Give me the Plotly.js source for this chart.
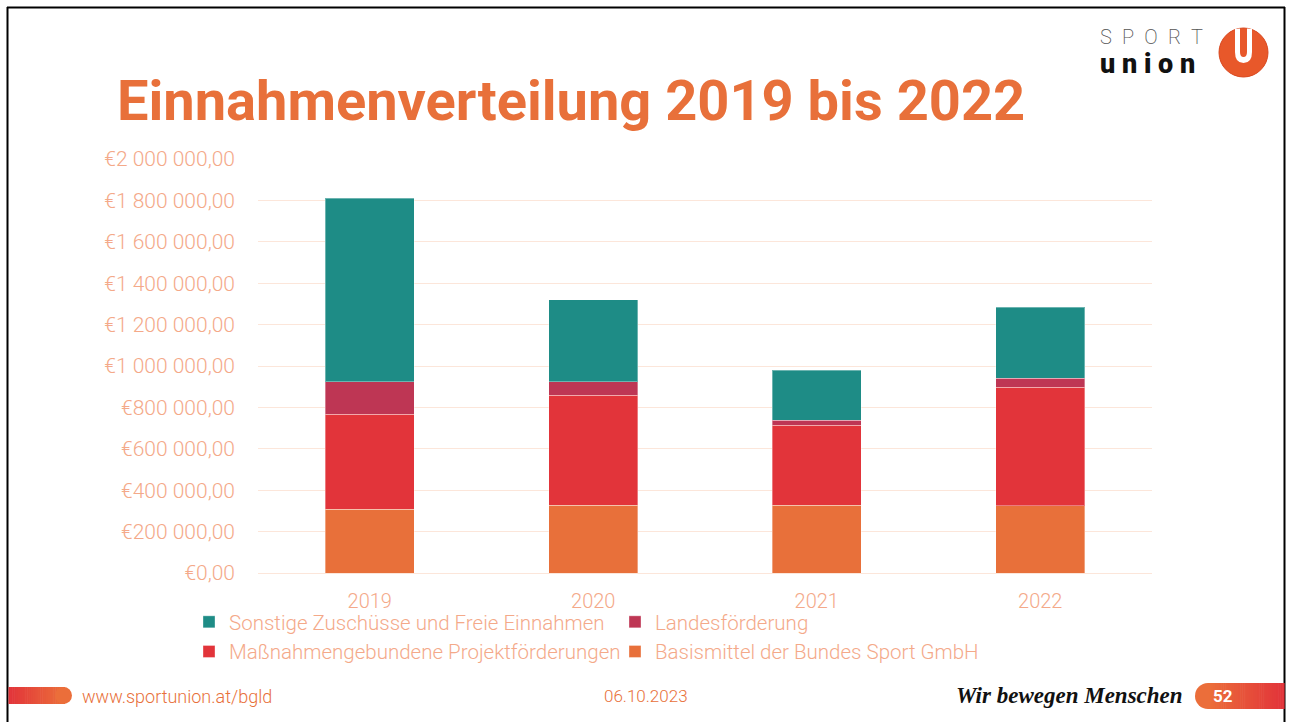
<!DOCTYPE html>
<html><head><meta charset="utf-8">
<script src="https://cdn.plot.ly/plotly-3.0.1.min.js"></script>
<style>html,body{margin:0;padding:0;background:#fff}#chart{width:1291px;height:722px}</style>
</head><body><div id="chart"></div>
<script>
const years = ['2019','2020','2021','2022'];
const basismittel = [309000, 328000, 327000, 325000];
const massnahmen = [457000, 530000, 386000, 572000];
const landes = [158000, 66000, 24000, 43000];
const sonstige = [887000, 395000, 243000, 343000];
const seriesNames = ['Basismittel der Bundes Sport GmbH','Maßnahmengebundene Projektförderungen','Landesförderung','Sonstige Zuschüsse und Freie Einnahmen'];
const seriesColors = ['#E8703A','#E2343A','#BE3654','#1E8C86'];
const tickVals = [0,200000,400000,600000,800000,1000000,1200000,1400000,1600000,1800000,2000000];
const tickText = ['€0,00','€200 000,00','€400 000,00','€600 000,00','€800 000,00','€1 000 000,00','€1 200 000,00','€1 400 000,00','€1 600 000,00','€1 800 000,00','€2 000 000,00'];

const W=1291,H=722,L=258,R=139,T=159,B=149;
const pw=W-L-R, ph=H-T-B;
const px=v=>(v-L)/pw, py=v=>(H-B-v)/ph;
const lightOrange='#F4A989', orange='#E8703A';
const fam='Roboto, "Open Sans", sans-serif';

const dataSets=[basismittel,massnahmen,landes,sonstige];
const traces=dataSets.map((d,i)=>({
  type:'bar', x:years, y:d, name:seriesNames[i],
  marker:{color:seriesColors[i], line:{color:'rgba(255,255,255,0.35)', width:1}},
  width:0.4, hoverinfo:'skip'
}));

function mix(c1,c2,t){
  const a=parseInt(c1.slice(1),16), b=parseInt(c2.slice(1),16);
  const r=Math.round(((a>>16)&255)*(1-t)+((b>>16)&255)*t);
  const g=Math.round(((a>>8)&255)*(1-t)+((b>>8)&255)*t);
  const bl=Math.round((a&255)*(1-t)+(b&255)*t);
  return 'rgb('+r+','+g+','+bl+')';
}
const shapes=[];
// slide frame
shapes.push({type:'line',xref:'paper',yref:'paper',x0:px(7),x1:px(1285),y0:py(7.5),y1:py(7.5),line:{color:'#000',width:2}});
shapes.push({type:'line',xref:'paper',yref:'paper',x0:px(7.5),x1:px(7.5),y0:py(7),y1:py(722),line:{color:'#000',width:2}});
shapes.push({type:'line',xref:'paper',yref:'paper',x0:px(1284.5),x1:px(1284.5),y0:py(7),y1:py(722),line:{color:'#000',width:2}});
// footer left pill (gradient approximated in slices)
const N1=30;
for(let i=0;i<N1;i++){
  const a=8.5+i*(56/N1);
  shapes.push({type:'rect',xref:'paper',yref:'paper',x0:px(a),x1:px(a+56/N1+0.6),y0:py(704),y1:py(687),fillcolor:mix('#E2343A','#EB6E3A',i/(N1-1)),line:{width:0}});
}
shapes.push({type:'circle',xref:'paper',yref:'paper',x0:px(55),x1:px(72),y0:py(704),y1:py(687),fillcolor:'#EB6E3A',line:{width:0}});
// page badge
shapes.push({type:'circle',xref:'paper',yref:'paper',x0:px(1195),x1:px(1221),y0:py(709),y1:py(683),fillcolor:'#EB6E3A',line:{width:0}});
const N2=40;
for(let i=0;i<N2;i++){
  const a=1208+i*(76/N2);
  shapes.push({type:'rect',xref:'paper',yref:'paper',x0:px(a),x1:px(a+76/N2+0.6),y0:py(709),y1:py(683),fillcolor:mix('#EB6E3A','#E2343A',i/(N2-1)),line:{width:0}});
}
// logo circle and U
shapes.push({type:'circle',xref:'paper',yref:'paper',x0:px(1219),x1:px(1268),y0:py(28),y1:py(77),fillcolor:'#E8582A',line:{color:'#D9481F',width:1}});
const ux=v=>px(v).toFixed(5), uy=v=>py(v).toFixed(5);
shapes.push({type:'path',xref:'paper',yref:'paper',
  path:`M ${ux(1235)} ${uy(29)} L ${ux(1235)} ${uy(52)} Q ${ux(1235)} ${uy(63)} ${ux(1243.5)} ${uy(63)} Q ${ux(1252)} ${uy(63)} ${ux(1252)} ${uy(52)} L ${ux(1252)} ${uy(29)} L ${ux(1247)} ${uy(28.5)} L ${ux(1247)} ${uy(52)} Q ${ux(1247)} ${uy(57)} ${ux(1243.5)} ${uy(57)} Q ${ux(1240)} ${uy(57)} ${ux(1240)} ${uy(52)} L ${ux(1240)} ${uy(28.5)} Z`,
  fillcolor:'#fff',line:{width:0}});

const annotations=[
  {xref:'paper',yref:'paper',x:px(115),y:py(101),xanchor:'left',yanchor:'middle',showarrow:false,
   text:'Einnahmenverteilung 2019 bis 2022',font:{family:fam,size:56,color:orange,weight:700}},
  {xref:'paper',yref:'paper',x:px(1098),y:py(36.5),xanchor:'left',yanchor:'middle',showarrow:false,
   text:'S\u2002P\u2002O\u2002R\u2002T',font:{family:'Roboto, sans-serif',size:20,color:'#555',weight:200}},
  {xref:'paper',yref:'paper',x:px(1098),y:py(63.5),xanchor:'left',yanchor:'middle',showarrow:false,
   text:'u n i o n',font:{family:'Roboto, sans-serif',size:27,color:'#111',weight:900}},
  {xref:'paper',yref:'paper',x:px(80),y:py(696),xanchor:'left',yanchor:'middle',showarrow:false,
   text:'www.sportunion.at/bgld',font:{family:fam,size:18,color:orange,weight:300}},
  {xref:'paper',yref:'paper',x:px(646),y:py(696),xanchor:'center',yanchor:'middle',showarrow:false,
   text:'06.10.2023',font:{family:fam,size:17,color:orange,weight:300}},
  {xref:'paper',yref:'paper',x:px(1185),y:py(695),xanchor:'right',yanchor:'middle',showarrow:false,
   text:'Wir bewegen Menschen',font:{family:'"Liberation Serif", serif',size:23,color:'#111',weight:700,style:'italic'}},
  {xref:'paper',yref:'paper',x:px(1223),y:py(696),xanchor:'center',yanchor:'middle',showarrow:false,
   text:'52',font:{family:fam,size:17,color:'#fff',weight:700}}
];

const layout={
  width:W,height:H,margin:{l:L,r:R,t:T,b:B,pad:0},
  paper_bgcolor:'#fff',plot_bgcolor:'#fff',
  barmode:'stack',bargap:0.6,
  font:{family:fam,color:lightOrange,size:19,weight:300},
  xaxis:{type:'category',showgrid:false,showline:false,zeroline:false,ticks:'',
    tickfont:{family:fam,size:20,color:lightOrange,weight:300},ticklabelstandoff:14,fixedrange:true},
  yaxis:{range:[0,2000000],tickvals:tickVals,ticktext:tickText,showgrid:true,gridcolor:'#FCE6DA',gridwidth:1,
    zeroline:true,zerolinecolor:'#FCE6DA',zerolinewidth:1,showline:false,ticks:'',ticklabelstandoff:22,
    tickfont:{family:fam,size:21,color:lightOrange,weight:300},fixedrange:true},
  showlegend:true,
  legend:{orientation:'h',traceorder:'reversed',x:px(189),xanchor:'left',y:py(602),yanchor:'top',
    entrywidth:381,entrywidthmode:'pixels',font:{family:fam,size:20.5,color:lightOrange,weight:300},
    itemwidth:30,tracegroupgap:0,bgcolor:'rgba(0,0,0,0)'},
  shapes:shapes,annotations:annotations
};
Plotly.newPlot('chart',traces,layout,{displayModeBar:false,staticPlot:true});
</script></body></html>
